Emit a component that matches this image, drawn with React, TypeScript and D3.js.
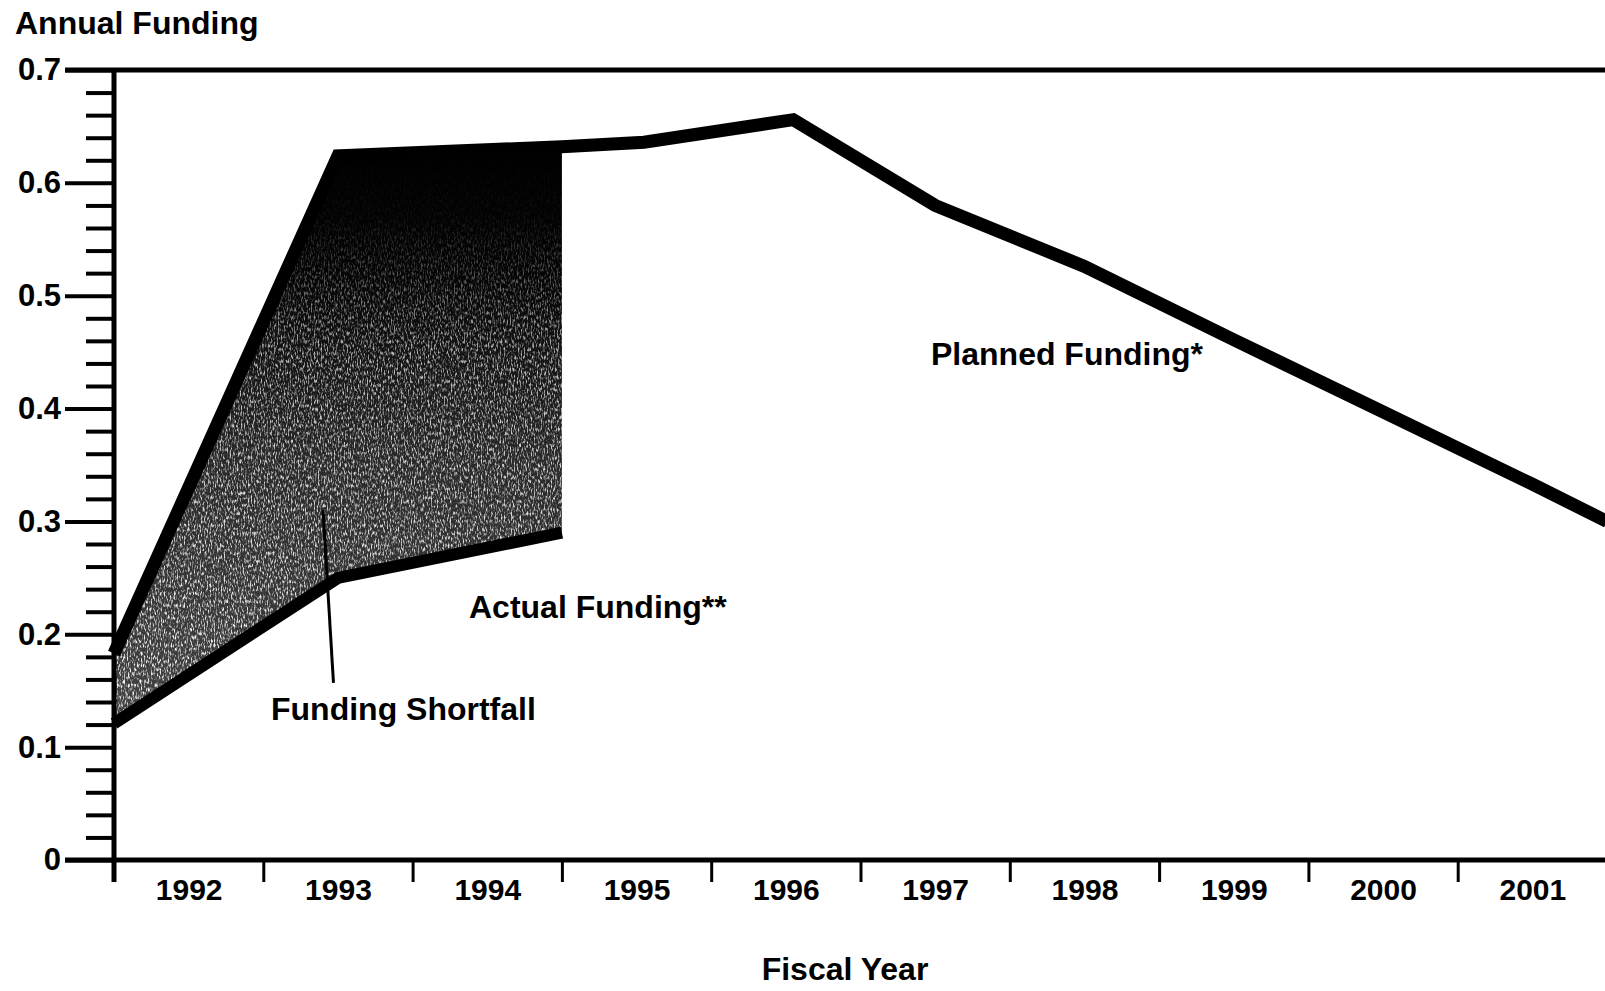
import React, { useEffect, useRef } from 'react'
import * as d3 from 'd3'

// fiscal year labels (each sits in the middle of its year band)
const years = [1992, 1993, 1994, 1995, 1996, 1997, 1998, 1999, 2000, 2001]

// planned funding, read at the kinks of the line
const plannedYears = [1992.0, 1993.5, 1995.0, 1995.55, 1996.55, 1997.5, 1998.5, 1999.5, 2000.5, 2001.5, 2002.0]
const plannedValues = [0.183, 0.624, 0.632, 0.636, 0.656, 0.58, 0.526, 0.461, 0.397, 0.333, 0.3]

// actual funding
const actualYears = [1992.0, 1993.5, 1995.0]
const actualValues = [0.121, 0.25, 0.29]

const majorTicks = [0, 0.1, 0.2, 0.3, 0.4, 0.5, 0.6, 0.7]
const minorTicks = d3.range(0, 35).map((i) => i * 0.02).filter((v) => Math.round(v * 100) % 10 !== 0)

const W = 1605
const H = 991
const FONT = '"Liberation Sans", Arial, Helvetica, sans-serif'

const App: React.FC = () => {
  const svgRef = useRef<SVGSVGElement | null>(null)

  useEffect(() => {
    if (!svgRef.current) return
    const svg = d3.select(svgRef.current)
    svg.selectAll('*').remove()

    const x = d3.scaleLinear().domain([1992, 2002]).range([114, 1607])
    const y = d3.scaleLinear().domain([0, 0.7]).range([860, 70])

    const planned = plannedYears.map((yr, i) => ({ yr, v: plannedValues[i] }))
    const actual = actualYears.map((yr, i) => ({ yr, v: actualValues[i] }))

    const defs = svg.append('defs')

    // dark base of the shaded area, black at the top
    const grad = defs
      .append('linearGradient')
      .attr('id', 'shade')
      .attr('gradientUnits', 'userSpaceOnUse')
      .attr('x1', 0)
      .attr('y1', y(0.63))
      .attr('x2', 0)
      .attr('y2', y(0.12))
    grad.append('stop').attr('offset', '0%').attr('stop-color', '#000')
    grad.append('stop').attr('offset', '22%').attr('stop-color', '#050505')
    grad.append('stop').attr('offset', '55%').attr('stop-color', '#2a2a2a')
    grad.append('stop').attr('offset', '100%').attr('stop-color', '#444')

    // how strong the white speckles are: none at the top, more lower down
    const speckGrad = defs
      .append('linearGradient')
      .attr('id', 'speckAmount')
      .attr('gradientUnits', 'userSpaceOnUse')
      .attr('x1', 0)
      .attr('y1', y(0.63))
      .attr('x2', 0)
      .attr('y2', y(0.12))
    speckGrad.append('stop').attr('offset', '0%').attr('stop-color', '#fff').attr('stop-opacity', 0)
    speckGrad.append('stop').attr('offset', '12%').attr('stop-color', '#fff').attr('stop-opacity', 0.05)
    speckGrad.append('stop').attr('offset', '35%').attr('stop-color', '#fff').attr('stop-opacity', 0.7)
    speckGrad.append('stop').attr('offset', '100%').attr('stop-color', '#fff').attr('stop-opacity', 1)

    const filter = defs.append('filter').attr('id', 'grain').attr('x', 0).attr('y', 0).attr('width', 1).attr('height', 1)
    filter
      .append('feTurbulence')
      .attr('type', 'fractalNoise')
      .attr('baseFrequency', '0.7 0.25')
      .attr('numOctaves', 2)
      .attr('seed', 3)
      .attr('result', 'noise')
    filter
      .append('feColorMatrix')
      .attr('in', 'noise')
      .attr('type', 'matrix')
      .attr('values', '0 0 0 0 1  0 0 0 0 1  0 0 0 0 1  3.4 0 0 0 -1.6')
      .attr('result', 'specks')
    filter
      .append('feComposite')
      .attr('in', 'specks')
      .attr('in2', 'SourceGraphic')
      .attr('operator', 'in')

    // funding shortfall area between planned and actual
    const shortfall = actual.map((d) => {
      const p = planned.find((q) => q.yr === d.yr)
      return { yr: d.yr, lo: d.v, hi: p ? p.v : d.v }
    })
    const area = d3
      .area<{ yr: number; lo: number; hi: number }>()
      .x((d) => x(d.yr))
      .y0((d) => y(d.lo))
      .y1((d) => y(d.hi))
    svg.append('path').datum(shortfall).attr('d', area).attr('fill', 'url(#shade)')
    svg.append('path').datum(shortfall).attr('d', area).attr('fill', 'url(#speckAmount)').attr('filter', 'url(#grain)')

    // y axis: major ticks with labels, minor ticks without
    svg
      .append('g')
      .attr('transform', `translate(${x(1992)},0)`)
      .call(
        d3
          .axisLeft(y)
          .tickValues(majorTicks)
          .tickSize(49)
          .tickPadding(4)
          .tickFormat((d) => (+d === 0 ? '0' : (+d).toFixed(1)))
      )
      .call((g) => g.select('.domain').remove())
      .call((g) => g.selectAll('line').attr('stroke', '#000').attr('stroke-width', 4))
      .call((g) =>
        g
          .selectAll('text')
          .attr('fill', '#000')
          .attr('font-family', FONT)
          .attr('font-weight', 'bold')
          .attr('font-size', 31)
      )
    svg
      .append('g')
      .attr('transform', `translate(${x(1992)},0)`)
      .call(d3.axisLeft(y).tickValues(minorTicks).tickSize(28).tickFormat(() => ''))
      .call((g) => g.select('.domain').remove())
      .call((g) => g.selectAll('line').attr('stroke', '#000').attr('stroke-width', 4))

    // x axis: ticks at year boundaries, labels mid year
    svg
      .append('g')
      .attr('transform', `translate(0,${y(0)})`)
      .call(d3.axisBottom(x).tickValues(d3.range(1993, 2002)).tickSize(22).tickFormat(() => ''))
      .call((g) => g.select('.domain').remove())
      .call((g) => g.selectAll('line').attr('stroke', '#000').attr('stroke-width', 3))
    svg
      .append('g')
      .attr('transform', `translate(0,${y(0)})`)
      .call(
        d3
          .axisBottom(x)
          .tickValues(years.map((yr) => yr + 0.5))
          .tickSize(0)
          .tickPadding(19)
          .tickFormat((d) => String(Math.floor(+d)))
      )
      .call((g) => g.select('.domain').remove())
      .call((g) =>
        g
          .selectAll('text')
          .attr('fill', '#000')
          .attr('font-family', FONT)
          .attr('font-weight', 'bold')
          .attr('font-size', 30)
      )

    // frame: top line, x axis line, y axis line
    svg.append('line').attr('x1', 65).attr('x2', W).attr('y1', y(0.7)).attr('y2', y(0.7)).attr('stroke', '#000').attr('stroke-width', 5)
    svg.append('line').attr('x1', 65).attr('x2', W).attr('y1', y(0)).attr('y2', y(0)).attr('stroke', '#000').attr('stroke-width', 5)
    svg
      .append('line')
      .attr('x1', x(1992))
      .attr('x2', x(1992))
      .attr('y1', y(0.7))
      .attr('y2', y(0) + 22)
      .attr('stroke', '#000')
      .attr('stroke-width', 5)

    // lines
    const line = d3
      .line<{ yr: number; v: number }>()
      .x((d) => x(d.yr))
      .y((d) => y(d.v))
    svg
      .append('path')
      .datum(planned)
      .attr('d', line)
      .attr('fill', 'none')
      .attr('stroke', '#000')
      .attr('stroke-width', 13)
      .attr('stroke-linejoin', 'miter')
    svg
      .append('path')
      .datum(actual)
      .attr('d', line)
      .attr('fill', 'none')
      .attr('stroke', '#000')
      .attr('stroke-width', 12)
      .attr('stroke-linejoin', 'miter')

    // leader line for the shortfall label
    svg
      .append('line')
      .attr('x1', x(1993.4))
      .attr('y1', y(0.31))
      .attr('x2', x(1993.47))
      .attr('y2', y(0.157))
      .attr('stroke', '#000')
      .attr('stroke-width', 3)

    // labels
    const label = (txt: string, tx: number, ty: number, anchor = 'start') =>
      svg
        .append('text')
        .attr('x', tx)
        .attr('y', ty)
        .attr('text-anchor', anchor)
        .attr('font-family', FONT)
        .attr('font-weight', 'bold')
        .attr('font-size', 32)
        .attr('fill', '#000')
        .text(txt)

    label('Annual Funding', 15, 34)
    label('Planned Funding*', 931, 365)
    label('Actual Funding**', 469, 618)
    label('Funding Shortfall', 271, 720)
    label('Fiscal Year', 845, 980, 'middle')
  }, [])

  return (
    <svg
      ref={svgRef}
      width={W}
      height={H}
      style={{ position: 'absolute', left: 0, top: 0, background: '#fff' }}
    ></svg>
  )
}

export default App
